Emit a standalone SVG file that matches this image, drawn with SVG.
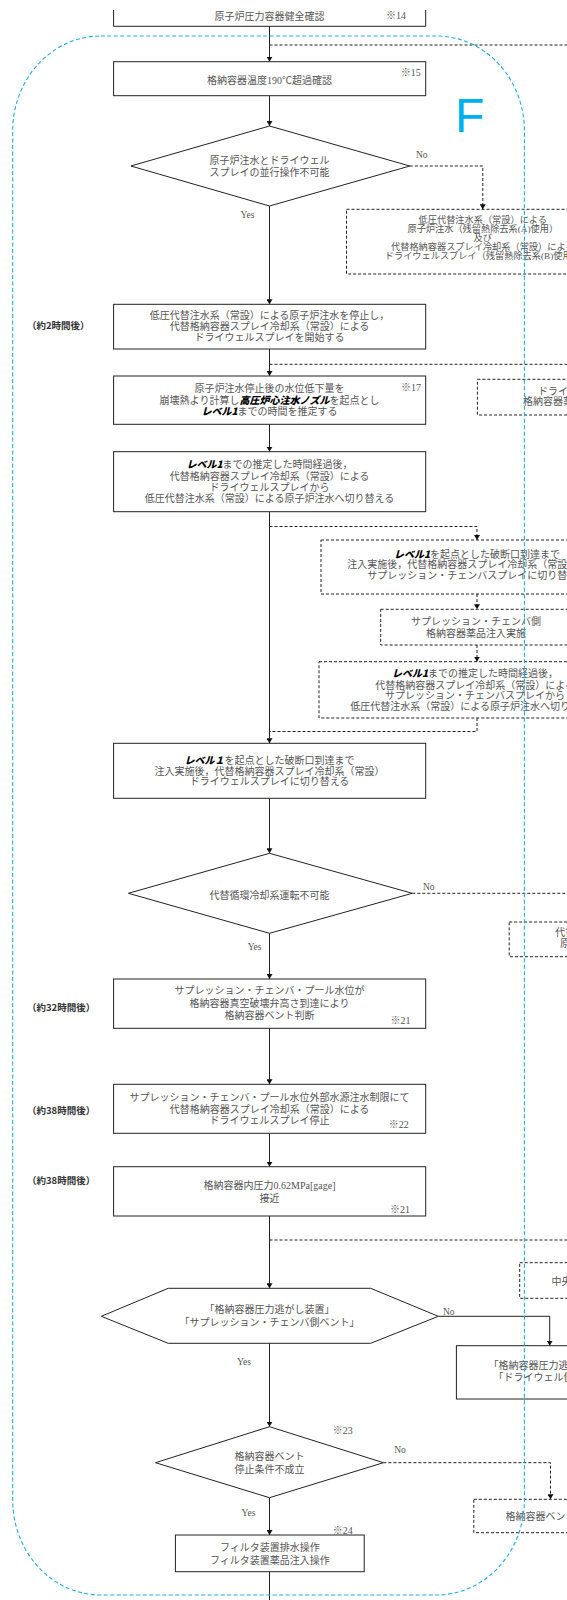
<svg xmlns="http://www.w3.org/2000/svg" width="567" height="1600" viewBox="0 0 567 1600">
<style>
.box{fill:#fff;stroke:#222;stroke-width:1}
.dbox{fill:#fff;stroke:#222;stroke-width:1;stroke-dasharray:3 2}
.t{font-family:"Liberation Serif","Noto Sans CJK JP",serif;font-size:10px;fill:#555;text-anchor:middle}
.s{font-size:9.2px}
.n{font-family:"Liberation Serif","Noto Sans CJK JP",serif;font-size:10px;fill:#555}
.b{font-family:"Noto Sans CJK JP",sans-serif;font-weight:900;fill:#000;font-style:italic}
.lab{font-family:"Noto Sans CJK JP",sans-serif;font-size:9.5px;font-weight:bold;fill:#333}
.yn{font-family:"Liberation Serif",serif;font-size:9.5px;fill:#555}
.c{fill:none;stroke:#222;stroke-width:1}
.dc{fill:none;stroke:#222;stroke-width:1;stroke-dasharray:3 2}
.blue{fill:none;stroke:#1ab0ea;stroke-width:1.1;stroke-dasharray:4 2.5}
</style>
<defs>
<marker id="ah" markerUnits="userSpaceOnUse" markerWidth="6" markerHeight="6" refX="5" refY="3" orient="auto">
<path d="M0,0 L5,3 L0,6 z" fill="#111"/>
</marker>
</defs>
<rect width="567" height="1600" fill="#fff"/>
<g id="connectors">
<path class="c" d="M269.5,26.3 V61.7" marker-end="url(#ah)"/>
<path class="c" d="M269.5,95.7 V126" marker-end="url(#ah)"/>
<path class="c" d="M269.5,206 V304.3" marker-end="url(#ah)"/>
<path class="c" d="M269.5,349 V376" marker-end="url(#ah)"/>
<path class="c" d="M269.5,424.3 V451.7" marker-end="url(#ah)"/>
<path class="c" d="M269.5,511.7 V743.3" marker-end="url(#ah)"/>
<path class="c" d="M269.5,798.3 V853.3" marker-end="url(#ah)"/>
<path class="c" d="M269.5,933.3 V979" marker-end="url(#ah)"/>
<path class="c" d="M269.5,1028.3 V1084.3" marker-end="url(#ah)"/>
<path class="c" d="M269.5,1133.3 V1166.7" marker-end="url(#ah)"/>
<path class="c" d="M269.5,1216 V1288.3" marker-end="url(#ah)"/>
<path class="c" d="M269.5,1343.3 V1426.7" marker-end="url(#ah)"/>
<path class="c" d="M269.5,1497.7 V1535" marker-end="url(#ah)"/>
<path class="c" d="M269.5,1571.7 V1600"/>
<path class="dc" d="M269.5,45 H567"/>
<path class="dc" d="M409.8,166 H482.8 V209.3" marker-end="url(#ah)"/>
<path class="dc" d="M269.5,364.3 H567"/>
<path class="dc" d="M269.5,526.5 H477 V540" marker-end="url(#ah)"/>
<path class="dc" d="M477,594 V609.3" marker-end="url(#ah)"/>
<path class="dc" d="M477,645 V661.7" marker-end="url(#ah)"/>
<path class="dc" d="M477,718 V731.5 H269.5"/>
<path class="dc" d="M412.3,893.3 H567"/>
<path class="dc" d="M269.5,1240 H567"/>
<path class="c" d="M438.3,1316.3 H549.7 V1345.7" marker-end="url(#ah)"/>
<path class="dc" d="M383.4,1462.7 H550.5 V1499.3" marker-end="url(#ah)"/>
<text class="yn" x="416" y="157.5">No</text>
<text class="yn" x="240.5" y="217.5">Yes</text>
<text class="yn" x="423" y="890">No</text>
<text class="yn" x="247.7" y="950">Yes</text>
<text class="yn" x="443" y="1314.5">No</text>
<text class="yn" x="237" y="1364.5">Yes</text>
<text class="yn" x="394.2" y="1452.5">No</text>
<text class="yn" x="241.6" y="1516.2">Yes</text>
</g>
<g id="n_top">
<path class="c" d="M113.6,10 V26.3 H425.7 V10"/>
<text class="t" x="269.5" y="19.5">原子炉圧力容器健全確認</text>
<text class="n" x="386" y="19">※14</text>
</g>
<g id="n_temp">
<rect class="box" x="113.6" y="61.7" width="312.1" height="34"/>
<text class="t" x="269.5" y="83.5">格納容器温度190℃超過確認</text>
<text class="n" x="400.7" y="76">※15</text>
</g>
<g id="d_parallel">
<polygon class="box" points="269.5,126 409.8,166 269.5,206 130.9,166"/>
<text class="t" x="269.5" y="164.2">原子炉注水とドライウェル</text>
<text class="t" x="269.5" y="176.2">スプレイの並行操作不可能</text>
</g>
<g id="r_rhr">
<rect class="dbox" x="346.5" y="209.3" width="272.5" height="64.7"/>
<text class="t s" x="482.8" y="222.6">低圧代替注水系（常設）による</text>
<text class="t s" x="482.8" y="231.6">原子炉注水（残留熱除去系(A)使用）</text>
<text class="t s" x="482.8" y="240.6">及び</text>
<text class="t s" x="482.8" y="249.6">代替格納容器スプレイ冷却系（常設）による</text>
<text class="t s" x="482.8" y="258.6">ドライウェルスプレイ（残留熱除去系(B)使用）</text>
</g>
<g id="n_stop">
<rect class="box" x="113.6" y="304.3" width="312.1" height="44.7"/>
<text class="t" x="269.5" y="318.5">低圧代替注水系（常設）による原子炉注水を停止し，</text>
<text class="t" x="269.5" y="330.2">代替格納容器スプレイ冷却系（常設）による</text>
<text class="t" x="269.5" y="340.8">ドライウェルスプレイを開始する</text>
<text class="lab" x="27" y="328.5">（約2時間後）</text>
</g>
<g id="n_estimate">
<rect class="box" x="113.6" y="376" width="312.1" height="48.3"/>
<text class="t" x="269.5" y="391.8">原子炉注水停止後の水位低下量を</text>
<text class="t" x="269.5" y="403.5">崩壊熱より計算し<tspan class="b">高圧炉心注水ノズル</tspan>を起点とし</text>
<text class="t" x="269.5" y="415.2"><tspan class="b">レベル1</tspan>までの時間を推定する</text>
<text class="n" x="401" y="390.8">※17</text>
</g>
<g id="r_dw_chem">
<rect class="dbox" x="477.4" y="379.3" width="192" height="35.7"/>
<text class="t" x="573" y="394.5">ドライウェル側</text>
<text class="t" x="573" y="405">格納容器薬品注入実施</text>
</g>
<g id="n_switch1">
<rect class="box" x="113.6" y="451.7" width="312.1" height="60"/>
<text class="t" x="269.5" y="467.8"><tspan class="b">レベル1</tspan>までの推定した時間経過後，</text>
<text class="t" x="269.5" y="480.2">代替格納容器スプレイ冷却系（常設）による</text>
<text class="t" x="269.5" y="491.2">ドライウェルスプレイから</text>
<text class="t" x="269.5" y="502.2">低圧代替注水系（常設）による原子炉注水へ切り替える</text>
</g>
<g id="r_a">
<rect class="dbox" x="321" y="540" width="312" height="54"/>
<text class="t" x="477" y="557.5"><tspan class="b">レベル1</tspan>を起点とした破断口到達まで</text>
<text class="t" x="477" y="568">注入実施後，代替格納容器スプレイ冷却系（常設）による</text>
<text class="t" x="477" y="578.5">サプレッション・チェンバスプレイに切り替える</text>
</g>
<g id="r_b">
<rect class="dbox" x="380.7" y="609.3" width="190.6" height="35.7"/>
<text class="t" x="476" y="625.2">サプレッション・チェンバ側</text>
<text class="t" x="476" y="636.8">格納容器薬品注入実施</text>
</g>
<g id="r_c">
<rect class="dbox" x="319" y="661.7" width="312" height="56.3"/>
<text class="t" x="475" y="676.5"><tspan class="b">レベル1</tspan>までの推定した時間経過後，</text>
<text class="t" x="475" y="688.5">代替格納容器スプレイ冷却系（常設）による</text>
<text class="t" x="475" y="699">サプレッション・チェンバスプレイから</text>
<text class="t" x="475" y="709.5">低圧代替注水系（常設）による原子炉注水へ切り替える</text>
</g>
<g id="n_switch2">
<rect class="box" x="113.6" y="743.3" width="312.1" height="55"/>
<text class="t" x="269.5" y="763.5"><tspan class="b">レベル１</tspan>を起点とした破断口到達まで</text>
<text class="t" x="269.5" y="774.5">注入実施後，代替格納容器スプレイ冷却系（常設）</text>
<text class="t" x="269.5" y="785">ドライウェルスプレイに切り替える</text>
</g>
<g id="d_altcool">
<polygon class="box" points="269.5,853.3 412.3,893.3 269.5,933.3 128.4,893.3"/>
<text class="t" x="269.5" y="899">代替循環冷却系運転不可能</text>
</g>
<g id="r_altcool">
<rect class="dbox" x="509.2" y="922" width="192" height="34.7"/>
<text class="t" x="605" y="936.2">代替循環冷却系による</text>
<text class="t" x="605" y="946.5">原子炉注水及び除熱</text>
</g>
<g id="n_ventjudge">
<rect class="box" x="113.6" y="979" width="312.1" height="49.3"/>
<text class="t" x="269.5" y="994.2">サプレッション・チェンバ・プール水位が</text>
<text class="t" x="269.5" y="1006.8">格納容器真空破壊弁高さ到達により</text>
<text class="t" x="269.5" y="1019.2">格納容器ベント判断</text>
<text class="n" x="390.6" y="1024">※21</text>
<text class="lab" x="27" y="1010.8">（約32時間後）</text>
</g>
<g id="n_spraystop">
<rect class="box" x="113.6" y="1084.3" width="312.1" height="49"/>
<text class="t" x="269.5" y="1101.2">サプレッション・チェンバ・プール水位外部水源注水制限にて</text>
<text class="t" x="269.5" y="1112.8">代替格納容器スプレイ冷却系（常設）による</text>
<text class="t" x="269.5" y="1123.5">ドライウェルスプレイ停止</text>
<text class="n" x="388.8" y="1127.5">※22</text>
<text class="lab" x="27" y="1113.5">（約38時間後）</text>
</g>
<g id="n_pressure">
<rect class="box" x="113.6" y="1166.7" width="312.1" height="49.3"/>
<text class="t" x="269.5" y="1189.2">格納容器内圧力0.62MPa[gage]</text>
<text class="t" x="269.5" y="1201.8">接近</text>
<text class="n" x="390" y="1212.8">※21</text>
<text class="lab" x="27" y="1183.5">（約38時間後）</text>
</g>
<g id="r_mcr">
<rect class="dbox" x="519.7" y="1262.7" width="134" height="35.6"/>
<text class="t" x="586.5" y="1284.5">中央制御室待避</text>
</g>
<g id="h_vent">
<polygon class="box" points="168.2,1288.3 370.7,1288.3 438.3,1316.3 370.7,1343.3 168.2,1343.3 101.3,1316.3"/>
<text class="t" x="269.5" y="1312.8">「格納容器圧力逃がし装置」</text>
<text class="t" x="269.5" y="1326.2">「サプレッション・チェンバ側ベント」</text>
</g>
<g id="r_dwvent">
<rect class="box" x="456.4" y="1345.7" width="194" height="53.3"/>
<text class="t" x="553.5" y="1368.5">「格納容器圧力逃がし装置」</text>
<text class="t" x="553.5" y="1380.8">「ドライウェル側ベント」</text>
</g>
<g id="d_ventstop">
<polygon class="box" points="269.5,1426.7 383.4,1462.7 269.5,1497.7 155.5,1462.7"/>
<text class="t" x="269.5" y="1460.2">格納容器ベント</text>
<text class="t" x="269.5" y="1472.8">停止条件不成立</text>
<text class="n" x="332.7" y="1434.2">※23</text>
</g>
<g id="r_ventstop">
<rect class="dbox" x="473.8" y="1499.3" width="153.4" height="33.4"/>
<text class="t" x="550.5" y="1520.2">格納容器ベント停止</text>
</g>
<g id="n_filter">
<rect class="box" x="175.4" y="1535" width="188.8" height="36.7"/>
<text class="t" x="269.8" y="1551.2">フィルタ装置排水操作</text>
<text class="t" x="269.8" y="1563.5">フィルタ装置薬品注入操作</text>
<text class="n" x="332.7" y="1534.2">※24</text>
</g>
<g id="region_F">
<rect class="blue" x="12.7" y="36" width="511.7" height="1559" rx="88" ry="95"/>
<text x="455" y="132" font-family="Liberation Sans,Arial,sans-serif" font-size="48" fill="#00b0f0">F</text>
</g>
</svg>
